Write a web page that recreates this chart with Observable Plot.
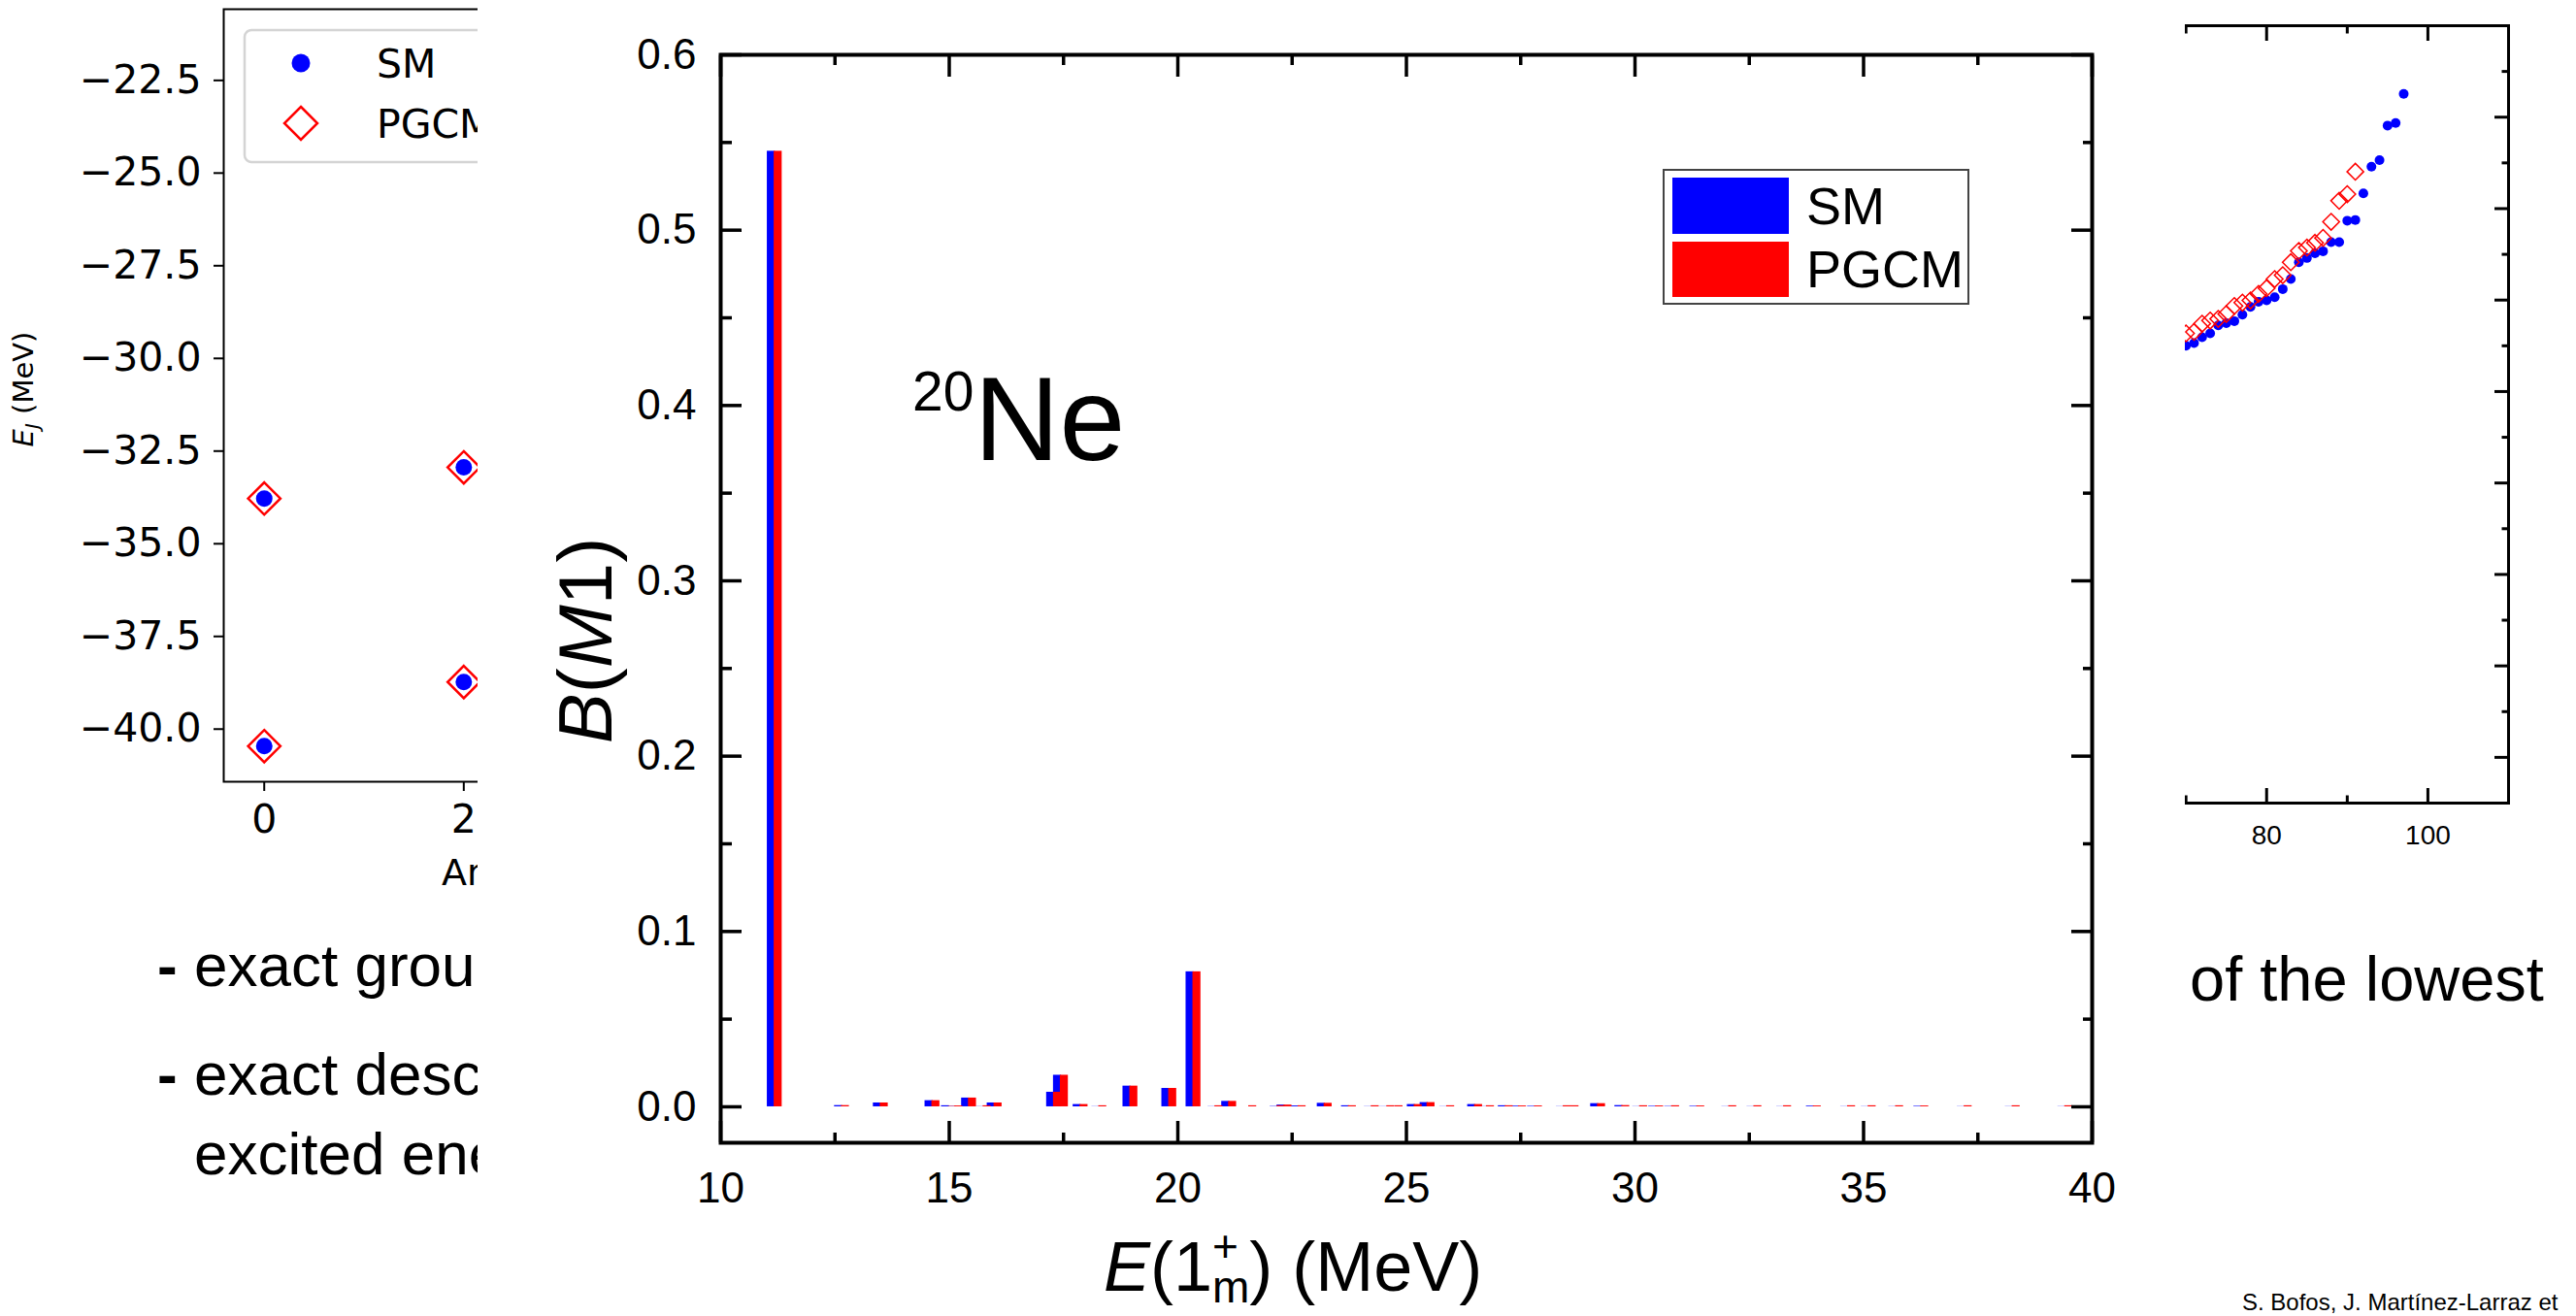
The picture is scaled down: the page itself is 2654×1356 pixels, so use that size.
<!DOCTYPE html>
<html>
<head>
<meta charset="utf-8">
<script src="https://cdn.jsdelivr.net/npm/d3@7"></script>
<script src="https://cdn.jsdelivr.net/npm/@observablehq/plot@0.6"></script>
<style>
  html, body { margin: 0; padding: 0; background: #fff; }
  #page { position: relative; width: 2654px; height: 1356px; overflow: hidden; background: #fff; }
  .layer { position: absolute; }
  svg.overlay { position: absolute; left: 0; top: 0; pointer-events: none; }
</style>
</head>
<body>
<div id="page">
  <div id="leftChart" class="layer" style="left:0;top:0;z-index:1;"></div>
  <div id="rightChart" class="layer" style="left:2000px;top:0;z-index:1;"></div>
  <svg id="under" class="overlay" width="492" height="1356" style="z-index:1;overflow:hidden"></svg>
  <div id="panel" class="layer" style="left:492px;top:0;width:1759px;height:1356px;background:#fff;z-index:2;"></div>
  <svg id="over" class="overlay" width="2654" height="1356" style="z-index:3"></svg>
</div>
<script>
// ---- B(M1) strengths of the 1+ states of 20Ne (main panel) ----
const stateEnergy = [11.02, 12.49, 13.34, 14.47, 14.83, 14.97, 15.27, 15.59, 15.83, 17.13,
  17.28, 17.71, 18.12, 18.80, 19.65, 20.18, 20.66, 20.96, 21.40, 22.02,
  22.17, 22.48, 23.05, 23.58, 24.08, 24.42, 24.60, 25.02, 25.30, 25.73,
  26.34, 26.60, 27.01, 27.30, 27.65, 28.28, 28.45, 29.03, 29.56, 29.95,
  30.30, 30.65, 31.20, 31.90, 32.45, 33.10, 33.75, 34.50, 34.95, 35.55,
  36.10, 37.05, 38.10, 39.25];
const bm1SM = [0.545, 0.0007, 0.0022, 0.0035, 0.0006, 0.0002, 0.0050, 0.0001, 0.0022, 0.0083,
  0.0180, 0.0013, 0.0001, 0.0118, 0.0105, 0.0770, 0.0001, 0.0031, 0.0000, 0.0002,
  0.0010, 0.0005, 0.0020, 0.0006, 0.0001, 0.0001, 0.0001, 0.0013, 0.0024, 0.0001,
  0.0013, 0.0001, 0.0006, 0.0004, 0.0003, 0.0001, 0.0001, 0.0018, 0.0007, 0.0001,
  0.0003, 0.0002, 0.0003, 0.0001, 0.0001, 0.0001, 0.0004, 0.0001, 0.0001, 0.0001,
  0.0003, 0.0001, 0.0001, 0.0001];
const bm1PGCM = [0.545, 0.0007, 0.0022, 0.0035, 0.0002, 0.0005, 0.0050, 0.0006, 0.0022, 0.0083,
  0.0180, 0.0013, 0.0006, 0.0118, 0.0105, 0.0770, 0.0006, 0.0031, 0.0006, 0.0006,
  0.0010, 0.0006, 0.0020, 0.0006, 0.0006, 0.0006, 0.0006, 0.0013, 0.0024, 0.0006,
  0.0013, 0.0006, 0.0006, 0.0005, 0.0005, 0.0006, 0.0006, 0.0018, 0.0007, 0.0006,
  0.0005, 0.0006, 0.0005, 0.0006, 0.0006, 0.0006, 0.0005, 0.0006, 0.0006, 0.0006,
  0.0005, 0.0006, 0.0006, 0.0006];
const energyMajor = [10, 15, 20, 25, 30, 35, 40];
const energyMinor = [12.5, 17.5, 22.5, 27.5, 32.5, 37.5];
const strengthMajor = [0, 0.1, 0.2, 0.3, 0.4, 0.5, 0.6];
const strengthMinor = [0.05, 0.15, 0.25, 0.35, 0.45, 0.55];

// ---- Ground and excited state energies E_J (left panel) ----
const angMomJ = [0, 0, 2, 2];
const ejSM = [-33.78, -40.46, -32.94, -38.73];
const ejPGCM = [-33.78, -40.46, -32.94, -38.73];
const ejTicks = [-40, -37.5, -35, -32.5, -30, -27.5, -25, -22.5];
const jTicks = [0, 2];

// ---- Spectrum of states (right panel) ----
const specIndexSM = [70, 71, 72, 73, 74, 75, 76, 77, 78, 79, 80, 81, 82, 83, 84, 85, 86, 87, 88, 89, 90, 91, 92, 93, 94, 95, 96, 97];
const specEnergySM = [32.50, 32.65, 32.97, 33.18, 33.62, 33.74, 33.85, 34.20, 34.63, 34.91,
  34.98, 35.16, 35.60, 36.15, 37.07, 37.30, 37.56, 37.67, 38.17, 38.17,
  39.34, 39.38, 40.83, 42.29, 42.65, 44.54, 44.68, 46.27];
const specIndexPGCM = [70, 71, 72, 73, 74, 75, 76, 77, 78, 79, 80, 81, 82, 83, 84, 85, 86, 87, 88, 89, 90, 91];
const specEnergyPGCM = [33.18, 33.26, 33.71, 33.88, 33.97, 34.24, 34.68, 34.86, 34.98, 35.34,
  35.65, 36.15, 36.36, 37.07, 37.69, 37.87, 38.13, 38.40, 39.28, 40.43,
  40.79, 42.02];
const specXTicks = [80, 100];
const specXMajor = [60, 80, 100];
const specXMinor = [50, 70, 90, 110];
const specYMajor = [10, 15, 20, 25, 30, 35, 40, 45, 50];
const specYMinor = [12.5, 17.5, 22.5, 27.5, 32.5, 37.5, 42.5, 47.5];

// ---------------------------------------------------------------
const ARIAL = "'Liberation Sans', Arial, sans-serif";
const DEJAVU = "'DejaVu Sans', sans-serif";
const minusFmt = d => d3.format(".1f")(d).replace("-", "\u2212");

// Inward tick helper: shifts an outward tick by its own length so it sits inside the frame.
function inwardTicks(axis, anchor, ticks, size, width) {
  const shift = {bottom: {dy: -size}, top: {dy: size}, left: {dx: size}, right: {dx: -size}}[anchor];
  return axis(ticks, {anchor, tickSize: size, tickFormat: () => "", label: null, strokeWidth: width, ...shift});
}

// Left panel
const leftRows = angMomJ.map((j, i) => ({j, sm: ejSM[i], pgcm: ejPGCM[i]}));
const leftPlot = Plot.plot({
  width: 800, height: 900,
  marginLeft: 230, marginRight: 0, marginTop: 9, marginBottom: 95,
  x: {domain: [-0.406, 5.139]},
  y: {domain: [-41.42, -20.58]},
  style: {fontFamily: DEJAVU, fontSize: "41px", background: "transparent", maxWidth: "none", overflow: "visible"},
  marks: [
    Plot.frame({stroke: "black", strokeWidth: 2}),
    Plot.axisY(ejTicks, {anchor: "left", tickSize: 10, tickPadding: 13, tickFormat: minusFmt, strokeWidth: 2, label: null}),
    Plot.axisX(jTicks, {anchor: "bottom", tickSize: 10, tickPadding: 13, strokeWidth: 2, label: null}),
    Plot.dot(leftRows, {x: "j", y: "sm", r: 8.5, fill: "blue"}),
    Plot.dot(leftRows, {x: "j", y: "pgcm", r: 15, symbol: "diamond2", stroke: "red", strokeWidth: 2.5, fill: "none"})
  ]
});
document.getElementById("leftChart").appendChild(leftPlot);

// Right panel
const specSM = specIndexSM.map((n, i) => ({n, e: specEnergySM[i]}));
const specPGCM = specIndexPGCM.map((n, i) => ({n, e: specEnergyPGCM[i]}));
const rightPlot = Plot.plot({
  width: 654, height: 900,
  marginLeft: 85.5, marginRight: 70, marginTop: 26, marginBottom: 73,
  x: {domain: [50, 110]},
  y: {domain: [7.5, 50]},
  style: {fontFamily: ARIAL, fontSize: "28px", background: "transparent", maxWidth: "none", overflow: "visible"},
  marks: [
    Plot.dot(specSM, {x: "n", y: "e", r: 5, fill: "blue"}),
    Plot.dot(specPGCM, {x: "n", y: "e", r: 7.7, symbol: "diamond2", stroke: "red", strokeWidth: 1.5, fill: "none"}),
    Plot.frame({stroke: "black", strokeWidth: 3}),
    inwardTicks(Plot.axisX, "bottom", specXMajor, 15, 3),
    inwardTicks(Plot.axisX, "bottom", specXMinor, 7.5, 3),
    inwardTicks(Plot.axisX, "top", specXMajor, 15, 3),
    inwardTicks(Plot.axisX, "top", specXMinor, 7.5, 3),
    inwardTicks(Plot.axisY, "right", specYMajor, 15, 3),
    inwardTicks(Plot.axisY, "right", specYMinor, 7.5, 3),
    Plot.axisX(specXTicks, {anchor: "bottom", tickSize: 0, tickPadding: 23, label: null})
  ]
});
document.getElementById("rightChart").appendChild(rightPlot);

// Main panel
const barWidth = 0.175;   // MeV
const pgcmShift = 0.15;   // MeV, PGCM bar drawn just right of the SM bar
const states = stateEnergy.map((e, i) => ({e, sm: bm1SM[i], pgcm: bm1PGCM[i]}));
const mainPlot = Plot.plot({
  width: 1759, height: 1356,
  marginLeft: 250, marginRight: 96, marginTop: 56, marginBottom: 179,
  x: {domain: [10, 40]},
  y: {domain: [-0.0205, 0.6]},
  style: {fontFamily: ARIAL, fontSize: "44px", background: "white", maxWidth: "none", overflow: "visible"},
  marks: [
    Plot.rect(states, {x1: d => d.e, x2: d => d.e + barWidth, y1: 0, y2: "sm", fill: "blue"}),
    Plot.rect(states, {x1: d => d.e + pgcmShift, x2: d => d.e + pgcmShift + barWidth, y1: 0, y2: "pgcm", fill: "red"}),
    Plot.frame({stroke: "black", strokeWidth: 4}),
    inwardTicks(Plot.axisX, "bottom", energyMajor, 22, 3.5),
    inwardTicks(Plot.axisX, "bottom", energyMinor, 10, 3.5),
    inwardTicks(Plot.axisX, "top", energyMajor, 22, 3.5),
    inwardTicks(Plot.axisX, "top", energyMinor, 10, 3.5),
    inwardTicks(Plot.axisY, "left", strengthMajor, 22, 3.5),
    inwardTicks(Plot.axisY, "left", strengthMinor, 12, 3.5),
    inwardTicks(Plot.axisY, "right", strengthMajor, 22, 3.5),
    inwardTicks(Plot.axisY, "right", strengthMinor, 10, 3.5),
    Plot.axisX(energyMajor, {anchor: "bottom", tickSize: 0, tickPadding: 30, label: null}),
    Plot.axisY(strengthMajor, {anchor: "left", tickSize: 0, tickPadding: 25, tickFormat: d3.format(".1f"), label: null})
  ]
});
document.getElementById("panel").appendChild(mainPlot);

// ---- Text layers ----
const under = d3.select("#under");
const over = d3.select("#over");

// left panel: axis titles and legend
under.append("text")
  .attr("transform", "translate(34,401) rotate(-90)")
  .attr("text-anchor", "middle").attr("font-family", DEJAVU).attr("font-size", 29)
  .call(t => {
    t.append("tspan").attr("font-style", "italic").text("E");
    t.append("tspan").attr("font-style", "italic").attr("font-size", 20).attr("dy", 6).text("J");
    t.append("tspan").attr("dy", -6).text(" (MeV)");
  });
under.append("text").attr("x", 455).attr("y", 912)
  .attr("font-family", DEJAVU).attr("font-size", 38).text("Angular momentum");

const lg = under.append("g");
lg.append("rect").attr("x", 252).attr("y", 31).attr("width", 420).attr("height", 136).attr("rx", 7)
  .attr("fill", "white").attr("fill-opacity", 0.8).attr("stroke", "#d4d4d4").attr("stroke-width", 2.5);
lg.append("circle").attr("cx", 310).attr("cy", 65).attr("r", 9.5).attr("fill", "blue");
lg.append("path").attr("d", "M310,110L327,127L310,144L293,127Z").attr("fill", "none").attr("stroke", "red").attr("stroke-width", 2.5);
lg.append("text").attr("x", 388).attr("y", 80).attr("font-family", DEJAVU).attr("font-size", 41).text("SM");
lg.append("text").attr("x", 388).attr("y", 142).attr("font-family", DEJAVU).attr("font-size", 41).text("PGCM");

// slide bullets (their right part runs behind the main panel)
const bullets = [
  {y: 1016, dash: true, text: "exact ground"},
  {y: 1128, dash: true, text: "exact descr"},
  {y: 1210, dash: false, text: "excited ene"}
];
bullets.forEach(b => {
  if (b.dash) under.append("text").attr("x", 162).attr("y", b.y).attr("font-family", ARIAL)
    .attr("font-size", 62).attr("font-weight", "bold").text("-");
  under.append("text").attr("x", 200).attr("y", b.y).attr("font-family", ARIAL).attr("font-size", 62).text(b.text);
});

// right-hand slide text and reference
over.append("text").attr("x", 2256).attr("y", 1031).attr("font-family", ARIAL).attr("font-size", 65).text("of the lowest");
over.append("text").attr("x", 2310).attr("y", 1350).attr("font-family", ARIAL).attr("font-size", 24)
  .text("S. Bofos, J. Mart\u00ednez-Larraz et");

// main panel: axis titles, nucleus label, legend
over.append("text")
  .attr("transform", "translate(630,660) rotate(-90)")
  .attr("text-anchor", "middle").attr("font-family", ARIAL).attr("font-size", 78)
  .call(t => {
    t.append("tspan").attr("font-style", "italic").text("B");
    t.append("tspan").text("(");
    t.append("tspan").attr("font-style", "italic").text("M");
    t.append("tspan").text("1)");
  });
over.append("text").attr("x", 1137).attr("y", 1330).attr("font-family", ARIAL).attr("font-size", 72)
  .call(t => {
    t.append("tspan").attr("font-style", "italic").text("E");
    t.append("tspan").text("(1");
    t.append("tspan").attr("font-size", 46).attr("dy", -30).text("+");
    t.append("tspan").attr("font-size", 46).attr("dx", -27).attr("dy", 42).text("m");
    t.append("tspan").attr("dy", -12).text(") (MeV)");
  });
over.append("text").attr("x", 940).attr("y", 474).attr("font-family", ARIAL)
  .call(t => {
    t.append("tspan").attr("font-size", 57).attr("dy", -51).text("20");
    t.append("tspan").attr("font-size", 122).attr("dy", 51).text("Ne");
  });

const ml = over.append("g");
ml.append("rect").attr("x", 1714).attr("y", 175).attr("width", 314).attr("height", 138)
  .attr("fill", "white").attr("stroke", "#444").attr("stroke-width", 2);
ml.append("rect").attr("x", 1723).attr("y", 183).attr("width", 120).attr("height", 58).attr("fill", "blue");
ml.append("rect").attr("x", 1723).attr("y", 249).attr("width", 120).attr("height", 57).attr("fill", "red");
ml.append("text").attr("x", 1861).attr("y", 231).attr("font-family", ARIAL).attr("font-size", 54).text("SM");
ml.append("text").attr("x", 1861).attr("y", 296).attr("font-family", ARIAL).attr("font-size", 54).text("PGCM");
</script>
</body>
</html>
